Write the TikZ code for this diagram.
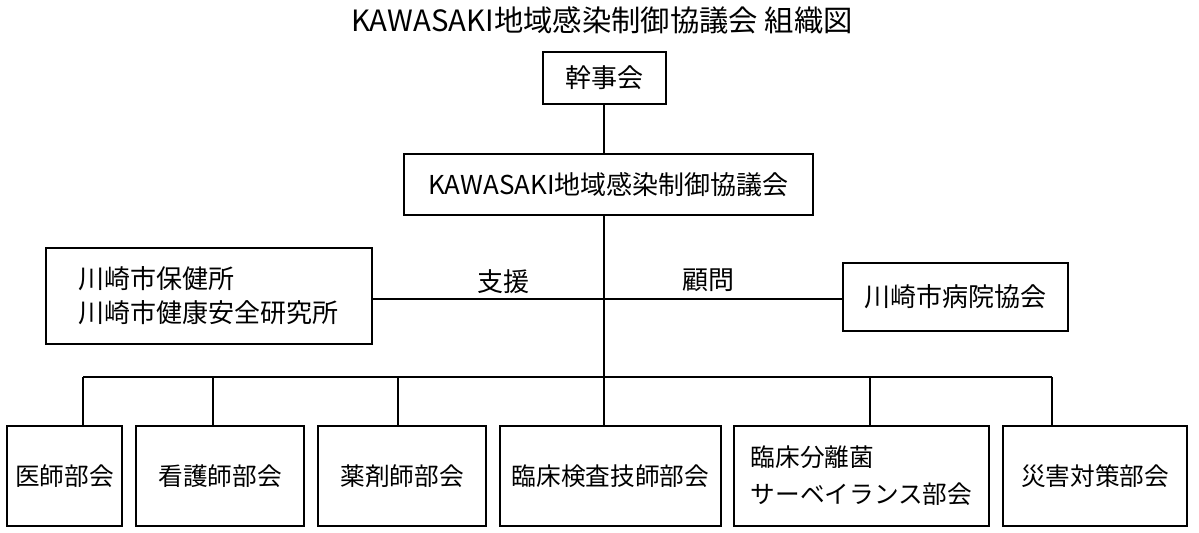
\documentclass[tikz,border=0pt]{standalone}
\usepackage{fontspec}
\setmainfont{Noto Sans CJK JP}
\usetikzlibrary{positioning}
\tikzset{
    block/.style={shape=rectangle,draw,line width=1.3pt,inner sep=0pt,
        font=\fontsize{19.5}{26}\selectfont},
    unit/.style={block,line width=1.6pt,minimum height=75pt,
        font=\fontsize{18.5}{26}\selectfont},
    link/.style={draw,line width=2.2pt}
}

\begin{document}
\begin{tikzpicture}[x=0.75pt,y=-0.75pt]
    % frame of the picture
    \useasboundingbox (0,0) rectangle (1199,532);

    % define distances
    \def\busy{377}

    % title
    \node [font=\fontsize{22}{24}\selectfont] at (602,20) (title)
        {KAWASAKI地域感染制御協議会 組織図};

    % upper nodes
    \node [block, minimum width=92.25pt, minimum height=39pt]  at (604.5,78)  (kanji) {幹事会};
    \node [block, minimum width=306.75pt, minimum height=45.75pt] at (608.5,184.5) (council) {KAWASAKI地域感染制御協議会};
    \node [block, text width=196pt, inner xsep=24.25pt, minimum height=72pt, align=left,
           font=\fontsize{19.5}{25.5}\selectfont] at (209,296) (hoken)
        {川崎市保健所\\川崎市健康安全研究所};
    \node [block, minimum width=168.75pt, minimum height=51pt] at (955.5,297) (byoin) {川崎市病院協会};

    % labels on the side line
    \node at (503,282) (shien) {\fontsize{19.5}{22}\selectfont 支援};
    \node at (708,280) (komon) {\fontsize{19.5}{22}\selectfont 顧問};

    % lower nodes (bunkai)
    \node [unit, minimum width=86.25pt]  at (64.5,476)  (ishi)    {医師部会};
    \node [unit, minimum width=126pt]    at (220,476)   (kango)   {看護師部会};
    \node [unit, minimum width=126pt]    at (402,476)   (yakuzai) {薬剤師部会};
    \node [unit, minimum width=165.75pt] at (610.5,476) (kensa)   {臨床検査技師部会};
    \node [unit, minimum width=191.25pt, align=left,
           font=\fontsize{18.5}{27.75}\selectfont] at (861.5,476) (bunri)
        {臨床分離菌\\サーベイランス部会};
    \node [unit, minimum width=138pt]    at (1095,476)  (saigai)  {災害対策部会};

    % points on the bus line
    \coordinate (top) at (604,104);
    \coordinate (busl) at (83,\busy);
    \coordinate (busr) at (1052,\busy);
    \coordinate (bus) at (604,\busy);

    % draw links
    \begin{scope}[link]
        \draw (top) -- (top |- council.north);
        \draw (top |- council.south) -- (bus);
        \draw (hoken.east |- 0,299) -- (byoin.west |- 0,299);
        \draw (busl) -- (busr);
        \draw (busl) -- (busl |- ishi.north);
        \draw (213,\busy) -- (213,\busy |- kango.north);
        \draw (398,\busy) -- (398,\busy |- yakuzai.north);
        \draw (bus) -- (bus |- kensa.north);
        \draw (870,\busy) -- (870,\busy |- bunri.north);
        \draw (busr) -- (busr |- saigai.north);
    \end{scope}
\end{tikzpicture}
\end{document}
